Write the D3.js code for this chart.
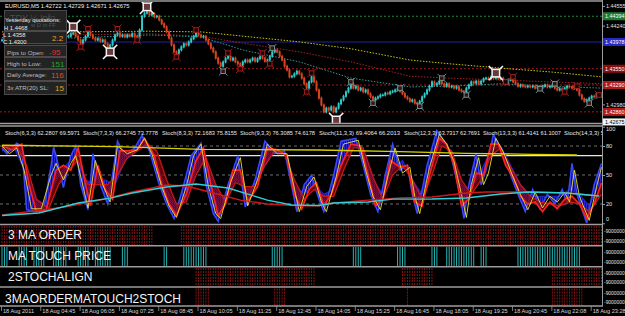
<!DOCTYPE html>
<html><head><meta charset="utf-8">
<script src="https://cdn.jsdelivr.net/npm/d3@7"></script>
<style>
html,body{margin:0;padding:0;background:#000;overflow:hidden}
svg{display:block}
text{font-family:"Liberation Sans",Arial,sans-serif}
</style></head><body>
<svg id="c" width="625" height="316"></svg>
<script>
// ---------------- DATA ----------------
const title = "EURUSD,M5 1.42722 1.42729 1.42671 1.42675";
const closes = [
1.4401,1.4404,1.4407,1.4406,1.4409,1.4404,1.4401,1.4398,1.4403,1.4406,1.4409,1.4407,1.4404,1.4401,1.4399,1.4403,1.4406,1.4407,1.4409,1.4406,1.4404,1.4407,1.4409,1.4411,1.4407,1.4406,1.4407,
1.4407,1.4411,1.4412,1.4407,1.4401,1.4396,1.4401,1.4407,1.4414,1.4409,1.4404,1.4401,1.4403,1.4399,1.4401,1.4395,1.4390,1.4393,1.4401,1.4409,1.4412,1.4407,1.4409,1.4406,1.4409,1.4407,1.4411,1.4407,1.4404,
1.4417,1.4439,1.4444,1.4446,1.4441,1.4443,1.4438,1.4439,1.4433,1.4427,1.4422,1.4414,1.4404,1.4393,1.4382,1.4379,1.4385,1.4390,1.4395,1.4393,1.4398,1.4403,1.4407,1.4412,1.4409,1.4406,1.4407,1.4401,1.4395,1.4388,1.4382,1.4372,1.4364,1.4359,
1.4366,1.4372,1.4375,1.4369,1.4372,1.4366,1.4363,1.4359,1.4366,1.4369,1.4366,1.4369,1.4372,1.4367,1.4371,1.4375,1.4372,1.4367,1.4369,1.4375,1.4382,1.4385,1.4382,1.4375,1.4369,1.4359,1.4353,1.4342,1.4343,1.4347,1.4351,1.4347,
1.4340,1.4331,1.4324,1.4334,1.4342,1.4334,1.4321,1.4308,1.4297,1.4286,1.4292,1.4289,1.4294,1.4286,1.4292,1.4299,1.4305,1.4311,1.4318,1.4324,1.4331,1.4324,1.4327,1.4321,1.4324,1.4318,1.4321,1.4315,1.4310,1.4305,1.4308,1.4310,1.4313,1.4313,
1.4316,1.4315,1.4318,1.4319,1.4321,1.4323,1.4319,1.4315,1.4310,1.4307,1.4303,1.4305,1.4300,1.4299,1.4303,1.4310,1.4315,1.4321,1.4327,1.4334,1.4329,1.4331,1.4335,1.4331,1.4327,1.4331,1.4326,1.4327,1.4324,1.4326,1.4321,1.4319,1.4318,1.4324,
1.4329,1.4334,1.4332,1.4335,1.4331,1.4335,1.4339,1.4340,1.4339,1.4342,1.4340,1.4343,1.4339,1.4340,1.4335,1.4331,1.4337,1.4339,1.4334,1.4331,1.4327,1.4329,1.4327,1.4326,1.4327,1.4326,1.4327,1.4324,1.4326,1.4324,1.4327,1.4329,1.4326,1.4327,
1.4329,1.4324,1.4321,1.4323,1.4321,1.4324,1.4327,1.4326,1.4324,1.4327,1.4321,1.4313,1.4307,1.4303,1.4305,1.4308,1.4311,1.4310,1.4315,1.4313,1.4311
];
const maYellow = [[0,1.4414],[27,1.4414],[60,1.4415],[81,1.4414],[101,1.4406],[121,1.4398],[142,1.4387],[166,1.4369],[182,1.4363],[203,1.4356],[223,1.4350],[244,1.4342]];
const maRed    = [[0,1.4410],[27,1.4409],[60,1.4411],[81,1.4407],[98,1.4396],[121,1.4382],[142,1.4366],[166,1.4343],[182,1.4340],[203,1.4337],[223,1.4334],[244,1.4331]];
const maCyan   = [[0,1.4405],[27,1.4404],[60,1.4409],[81,1.4406],[98,1.4385],[121,1.4366],[142,1.4340],[166,1.4326],[182,1.4327],[203,1.4331],[223,1.4327],[244,1.4324]];
const priceLevels = [1.4439, 1.43978, 1.4355, 1.4329, 1.4286];
const levelLabels = ["1.44394", "1.43978", "1.43550", "1.43290", "1.42860"];
const bidPrice = 1.42675, bidLabel = "1.42675";
const priceTicks = [1.44555, 1.44240, 1.42980];
const bigMarks  = [[29,1.4422],[44,1.4382],[59,1.4454],[136,1.4273],[201,1.4348]];
const redMarks  = [[32,1.4390],[35,1.4419],[47,1.4419],[55,1.4401],[71,1.4374],[79,1.4417],[92,1.4380],[97,1.4355],[106,1.4380],[109,1.4363],[124,1.4318],[126,1.4348],[205,1.4334],[208,1.4342],[229,1.4318],[234,1.4327],[243,1.4313]];
const grayMarks = [[90,1.4351],[110,1.4388],[142,1.4334],[151,1.4300],[162,1.4324],[170,1.4295],[179,1.4340],[189,1.4313],[219,1.4323],[225,1.4331],[239,1.4300]];

const stochHeader = [
 "Stoch(6,3,3) 62.2807 69.5971","Stoch(7,3,3) 66.2745 73.7778","Stoch(8,3,3) 72.1683 75.8155",
 "Stoch(9,3,3) 76.3085 74.6178","Stoch(11,3,3) 69.4064 66.2013","Stoch(12,3,3) 63.7317 62.7691",
 "Stoch(13,3,3) 61.4141 61.1007","Stoch(14,3,3) 5"];
const blueFast = [[0,78],[2,72],[6,83],[8,80],[10,14],[13,12],[17,15],[20,60],[21,79],[22,70],[25,37],[28,70],[30,80],[32,40],[35,14],[37,72],[40,40],[43,20],[45,50],[47,85],[50,70],[54,78],[57,91],[60,75],[64,40],[67,20],[70,5],[74,40],[77,70],[81,83],[83,40],[86,10],[88,2],[92,40],[96,70],[99,17],[103,45],[107,85],[111,72],[115,75],[117,50],[120,12],[123,40],[126,50],[129,25],[131,12],[135,50],[138,85],[144,88],[147,60],[150,30],[153,12],[156,50],[159,82],[162,55],[165,60],[167,30],[169,10],[173,60],[177,96],[180,85],[183,67],[186,35],[188,5],[190,40],[193,72],[195,40],[197,55],[200,92],[203,78],[207,50],[210,30],[213,12],[216,35],[219,15],[222,30],[225,20],[228,35],[230,20],[232,62],[234,30],[238,0],[241,40],[244,62]];
const blueSlow = [[0,75],[5,78],[10,50],[14,25],[18,18],[22,45],[26,60],[30,70],[34,45],[38,40],[42,45],[46,40],[50,65],[55,75],[59,82],[63,60],[67,35],[71,18],[75,25],[79,55],[83,65],[87,35],[91,25],[95,45],[99,35],[103,40],[107,60],[111,75],[115,72],[119,40],[123,30],[127,40],[131,30],[135,35],[139,65],[143,80],[147,75],[151,45],[155,30],[159,55],[163,65],[167,45],[171,30],[175,65],[179,85],[183,75],[187,40],[191,35],[195,55],[199,75],[203,80],[207,60],[211,40],[215,28],[219,28],[223,28],[227,28],[231,35],[235,30],[239,18],[244,45]];
const redFast = [[0,80],[4,76],[8,82],[11,40],[14,12],[18,14],[22,55],[25,60],[28,55],[31,78],[34,40],[36,18],[39,60],[42,35],[45,25],[48,75],[51,75],[55,76],[58,88],[62,70],[65,40],[68,20],[71,8],[75,30],[79,65],[82,78],[85,40],[88,8],[91,20],[94,55],[97,55],[100,22],[104,38],[108,78],[112,76],[116,70],[119,30],[122,15],[125,35],[128,42],[131,18],[134,30],[138,60],[142,82],[146,80],[149,50],[152,18],[155,25],[158,65],[162,58],[165,60],[168,22],[171,18],[174,50],[178,88],[181,82],[184,60],[187,18],[190,25],[193,52],[196,50],[199,82],[202,82],[205,60],[208,48],[211,28],[214,20],[217,22],[220,12],[223,22],[226,15],[229,25],[232,28],[235,20],[238,5],[241,20],[244,42]];
const redSlow = [[0,78],[6,80],[10,60],[14,25],[19,15],[23,40],[27,55],[31,65],[35,40],[39,40],[43,40],[47,50],[51,68],[55,75],[59,82],[63,75],[67,45],[71,20],[75,22],[79,50],[83,68],[87,40],[91,22],[95,42],[99,38],[103,38],[107,60],[111,75],[115,72],[119,45],[123,25],[127,35],[131,28],[135,28],[139,55],[143,78],[147,78],[151,48],[155,25],[159,50],[163,60],[167,45],[171,25],[175,50],[179,80],[183,75],[187,45],[191,30],[195,45],[199,70],[203,78],[207,58],[211,40],[215,28],[219,22],[223,20],[227,18],[231,22],[235,20],[239,12],[244,30]];
const yellowStoch = [[0,80],[3,72],[6,78],[9,55],[12,15],[16,15],[20,50],[22,62],[25,45],[28,62],[30,70],[33,38],[35,16],[38,65],[41,40],[44,22],[47,80],[51,72],[55,76],[58,88],[61,72],[65,38],[68,18],[71,6],[75,38],[78,70],[81,82],[84,38],[87,10],[89,5],[93,42],[97,68],[100,18],[104,45],[108,82],[112,72],[116,72],[118,48],[121,12],[124,38],[127,48],[130,22],[132,12],[136,48],[139,82],[145,86],[148,55],[151,28],[154,14],[157,48],[160,78],[163,52],[166,58],[168,28],[170,10],[174,58],[178,92],[181,82],[184,64],[187,30],[189,6],[191,40],[194,68],[196,40],[198,52],[201,88],[204,74],[208,48],[211,30],[214,14],[217,32],[220,16],[223,28],[226,22],[229,32],[231,22],[233,55],[235,28],[239,3],[242,38],[244,58]];
const yellowLevel = [[0,80.8],[47,79.3],[81,76.6],[129,75.9],[162,74.1],[189,72.4],[216,71.4],[234,70.7]];
const cyanSlow = [[0,8],[15,10.7],[31,21],[44,26],[53,31.4],[67,37.6],[79,40.7],[92,36.5],[108,24],[118,19],[129,18.5],[135,21],[149,22],[159,25],[175,25.2],[189,26.2],[203,30.3],[214,32.4],[230,31.4],[243,28.3]];
const redSlowMA = [[0,8.6],[26,17],[40,24],[53,32.4],[67,39.6],[75,38.6],[86,31.4],[97,24],[108,20],[121,18],[129,18],[135,21],[149,24],[162,26.2],[175,27.2],[189,31.4],[197,32.4],[216,32.4],[230,31.4],[243,28.3]];
const stochLevels = [80, 50, 20];
const stochWhite = 70;
const stochTicks = [100, 80, 50, 20, 0];

const panelNames = ["3 MA ORDER", "MA TOUCH PRICE", "2STOCHALIGN", "3MAORDERMATOUCH2STOCH"];
const maOrder = [[0,61],[73,244]];
const maTouch = [[0,2],[7,10],[13,17],[21,26],[31,35],[38,44],[49,51],[66,67],[74,83],[110,114],[143,146],[161,164],[175,177],[181,192],[195,197],[210,235]];
const stochAlign = [[79,127],[163,175],[224,244]];
const allSignals = [[79,84],[111,115],[165,165],[224,236]];
const signalAxisLabel = "-9000000";

const timeLabels = [[0,"18 Aug 2011"],[16,"18 Aug 04:45"],[32,"18 Aug 06:05"],[48,"18 Aug 07:25"],[64,"18 Aug 08:45"],[80,"18 Aug 10:05"],[96,"18 Aug 11:25"],[112,"18 Aug 12:45"],[128,"18 Aug 14:05"],[144,"18 Aug 15:25"],[160,"18 Aug 16:45"],[176,"18 Aug 18:05"],[192,"18 Aug 19:25"],[208,"18 Aug 20:45"],[224,"18 Aug 22:08"],[240,"18 Aug 23:28"]];

const infoRows = [["Pips to Open:","-95"],["High to Low:","151"],["Daily Average:","116"],["3x ATR(20) SL:","15"]];
const yesterday = ["Yesterday quotations:","H 1.4468","L 1.4358","C 1.4300"];
const rangeRatio = "2.2";

// ---------------- DRAW ----------------
const svg = d3.select("#c");
svg.append("rect").attr("width",625).attr("height",316).attr("fill","#000");
const defs = svg.append("defs");
function clip(id,x0,y0,x1,y1){defs.append("clipPath").attr("id",id).append("rect").attr("x",x0).attr("y",y0).attr("width",x1-x0).attr("height",y1-y0);}
const XR = 602;
clip("cp",0,2,XR,123); clip("cs",0,127,XR,223); clip("ch",0,126,XR,140);
const pb = defs.append("pattern").attr("id","hb").attr("width",2).attr("height",3).attr("patternUnits","userSpaceOnUse");
pb.append("rect").attr("width",2).attr("height",3).attr("fill","#10106a");
pb.append("line").attr("x1",0.5).attr("x2",0.5).attr("y1",0).attr("y2",3).attr("stroke","#3030e0").attr("stroke-width",0.8);
const pr = defs.append("pattern").attr("id","hr").attr("width",2).attr("height",2).attr("patternUnits","userSpaceOnUse");
pr.append("rect").attr("width",2).attr("height",2).attr("fill","#4a0505");
pr.append("line").attr("x1",0).attr("x2",2).attr("y1",0.5).attr("y2",1.5).attr("stroke","#c81414").attr("stroke-width",0.8);

const x = d3.scaleLinear().domain([0,244]).range([2,601.5]);
const yP = d3.scaleLinear().domain([1.42666,1.4465]).range([124,0]);
const yS = d3.scaleLinear().domain([0,100]).range([223.3,126.7]);

// ---- price panel
const gP = svg.append("g").attr("clip-path","url(#cp)");
const lvlStyle = [{c:"#1e8c3c",d:"2,2",w:1},{c:"#23239c",d:null,w:1.2},{c:"#a81a1a",d:"2,2",w:1},{c:"#a81a1a",d:"2,2",w:1},{c:"#a81a1a",d:"2,2",w:1}];
priceLevels.forEach((p,i)=>{
  gP.append("line").attr("x1",0).attr("x2",XR).attr("y1",yP(p)).attr("y2",yP(p))
   .attr("stroke",lvlStyle[i].c).attr("stroke-width",lvlStyle[i].w).attr("stroke-dasharray",lvlStyle[i].d);
});
const lineP = d3.line().x(d=>x(d[0])).y(d=>yP(d[1]));
[[maYellow,"#c8c800"],[maRed,"#a82020"],[maCyan,"#2a9a9a"]].forEach(([d,c])=>{
  gP.append("path").attr("d",lineP(d)).attr("fill","none").attr("stroke",c).attr("stroke-width",1).attr("stroke-dasharray","1.5,1.5");
});
closes.forEach((c,i)=>{
  const o = i ? closes[i-1] : c;
  const up = c >= o;
  const col = up ? "#30c8c8" : "#d8441c";
  const yt = yP(Math.max(o,c)), yb = yP(Math.min(o,c));
  gP.append("line").attr("x1",x(i)).attr("x2",x(i)).attr("y1",yt-1.5).attr("y2",yb+1.5).attr("stroke",col).attr("stroke-width",1);
  gP.append("rect").attr("x",x(i)-1).attr("y",yt-0.5).attr("width",2).attr("height",Math.max(1.5,yb-yt+1)).attr("fill",col);
});
function marker(g,d,s,col,inner,w){
  const cx=x(d[0]), cy=yP(d[1]), h=s/2, k=s*0.45;
  g.append("rect").attr("x",cx-h).attr("y",cy-h).attr("width",s).attr("height",s).attr("fill",inner).attr("stroke",col).attr("stroke-width",w);
  [[-1,-1],[1,-1],[-1,1],[1,1]].forEach(([sx,sy])=>{
    g.append("line").attr("x1",cx+sx*h).attr("y1",cy+sy*h).attr("x2",cx+sx*(h+k)).attr("y2",cy+sy*(h+k)).attr("stroke",col).attr("stroke-width",w);
  });
}
grayMarks.forEach(d=>marker(gP,d,4.5,"#6f9090","#3a1010",1));
redMarks.forEach(d=>marker(gP,d,4.5,"#a61e1e","#1a0000",1));
bigMarks.forEach(d=>marker(gP,d,7.5,"#f4f4f4","#6a3a3a",1.5));

// info box
const gi = svg.append("g");
gi.append("rect").attr("x",4).attr("y",10).attr("width",63).attr("height",85).attr("fill","#1b1b1b");
[[10,31],[31,44],[45,57],[57,69],[69,81],[81,95]].forEach(r=>{
  gi.append("rect").attr("x",4.5).attr("y",r[0]+0.5).attr("width",62).attr("height",r[1]-r[0]-1).attr("fill","#232323").attr("stroke","#4a4a4a").attr("stroke-width",1);
});
gi.append("text").attr("x",10).attr("y",21).attr("font-size",9).attr("fill","#4e4e4e").text("TDY ¼ Info");
gi.append("text").attr("x",5).attr("y",22).attr("font-size",5.8).attr("fill","#e8e8e8").text(yesterday[0]);
gi.append("text").attr("x",31).attr("y",27).attr("font-size",5.8).attr("fill","#555").text("w D in FF");
gi.append("text").attr("x",4).attr("y",29.5).attr("font-size",5.8).attr("fill","#e8e8e8").text(yesterday[1]);
gi.append("text").attr("x",3).attr("y",36.5).attr("font-size",5.8).attr("fill","#e8e8e8").text(yesterday[2]);
gi.append("text").attr("x",3).attr("y",43.5).attr("font-size",5.8).attr("fill","#e8e8e8").text(yesterday[3]);
gi.append("text").attr("x",52).attr("y",41).attr("font-size",8).attr("fill","#e0a030").text(rangeRatio);
const rowY = [54.5,66,77,90];
const valCol = ["#e03030","#30a030","#e04a20","#e0a020"];
const valX = [49,51,51,55];
infoRows.forEach((r,i)=>{
  gi.append("text").attr("x",7).attr("y",rowY[i]).attr("font-size",6.2).attr("fill","#bdbdbd").text(r[0]);
  gi.append("text").attr("x",valX[i]).attr("y",rowY[i]+0.5).attr("font-size",8).attr("fill",valCol[i]).text(r[1]);
});
svg.append("text").attr("x",5).attr("y",8).attr("font-size",5.8).attr("fill","#f0f0f0").text(title);

// ---- stochastic panel
const gS = svg.append("g").attr("clip-path","url(#cs)");
stochLevels.forEach(v=>{
  gS.append("line").attr("x1",0).attr("x2",XR).attr("y1",yS(v)).attr("y2",yS(v)).attr("stroke","#8a8a8a").attr("stroke-width",0.8).attr("stroke-dasharray","3,3");
});
gS.append("line").attr("x1",0).attr("x2",XR).attr("y1",yS(stochWhite)).attr("y2",yS(stochWhite)).attr("stroke","#e8e8e8").attr("stroke-width",1.2);
const lineS = d3.line().x(d=>x(d[0])).y(d=>yS(d[1]));
function band(a,b){ return lineS(a.concat(b.slice().reverse())) + "Z"; }
gS.append("path").attr("d",band(blueFast,blueSlow)).attr("fill","url(#hb)");
gS.append("path").attr("d",lineS(blueSlow)).attr("fill","none").attr("stroke","#2424cc").attr("stroke-width",1.1);
gS.append("path").attr("d",lineS(blueFast)).attr("fill","none").attr("stroke","#3848ff").attr("stroke-width",1.5);
gS.append("path").attr("d",band(redFast,redSlow)).attr("fill","url(#hr)").attr("fill-opacity",0.7);
gS.append("path").attr("d",lineS(redSlow)).attr("fill","none").attr("stroke","#c41818").attr("stroke-width",1.3);
gS.append("path").attr("d",lineS(redFast)).attr("fill","none").attr("stroke","#ff2020").attr("stroke-width",1.7);
gS.append("path").attr("d",lineS(yellowStoch)).attr("fill","none").attr("stroke","#f0e020").attr("stroke-width",0.9);
gS.append("path").attr("d",lineS(yellowLevel)).attr("fill","none").attr("stroke","#d8d000").attr("stroke-width",1.3);
gS.append("path").attr("d",lineS(redSlowMA)).attr("fill","none").attr("stroke","#d01818").attr("stroke-width",1.4);
gS.append("path").attr("d",lineS(cyanSlow)).attr("fill","none").attr("stroke","#30d0d8").attr("stroke-width",1.4);
const hdrX = [5,83,162,240,319,404,483,564];
const hdrW = [75,75,75,75,81,76,78,40];
const gH = svg.append("g").attr("clip-path","url(#ch)");
stochHeader.forEach((t,i)=>{
  gH.append("text").attr("x",hdrX[i]).attr("y",135).attr("font-size",5.6).attr("fill","#e8e8e8")
    .attr("textLength",hdrW[i]).attr("lengthAdjust","spacingAndGlyphs").text(t);
});

// ---- signal panels
const panY = [[226,245],[247,266],[268,286.5],[288.5,306]];
const sigSets = [maOrder, maTouch, stochAlign, allSignals];
const sigCol = ["#8a1414","#26b4b4","#8a1414","#8a1414"];
sigSets.forEach((set,pi)=>{
  const g = svg.append("g");
  set.forEach(([a,b])=>{
    for(let i=a;i<=b;i++){
      g.append("line").attr("x1",x(i)).attr("x2",x(i)).attr("y1",panY[pi][0]).attr("y2",panY[pi][1])
       .attr("stroke",sigCol[pi]).attr("stroke-width",1).attr("stroke-dasharray", pi===1?null:"2,1");
    }
  });
});
const nameBase = [238.5,259.5,281,302.5];
panelNames.forEach((n,i)=>{
  svg.append("text").attr("x",i===3?5:8).attr("y",nameBase[i]).attr("font-size",12).attr("fill","#f4f4f4").text(n);
});

// ---- frames
const frameY = [1,123.5,126,224.5,245.8,266.8,287,306];
frameY.forEach(y=>svg.append("line").attr("x1",0).attr("x2",XR+1).attr("y1",y).attr("y2",y).attr("stroke","#9c9c9c").attr("stroke-width",1.6));
svg.append("line").attr("x1",XR+0.5).attr("x2",XR+0.5).attr("y1",0).attr("y2",306).attr("stroke","#9c9c9c").attr("stroke-width",1);

// ---- right axes
const axP = svg.append("g").attr("transform",`translate(${XR+1},0)`)
  .call(d3.axisRight(yP).tickValues(priceTicks).tickFormat(d=>d.toFixed(5)).tickSize(2));
axP.select(".domain").remove();
axP.selectAll("text").attr("font-size",5.4).attr("fill","#e0e0e0").attr("x",3).attr("font-family","Liberation Sans, Arial");
axP.selectAll("line").attr("stroke","#9c9c9c");
const boxCol = ["#1e7c30","#2828c8","#8a1010","#b01a1a","#b01a1a"];
priceLevels.forEach((p,i)=>{
  svg.append("rect").attr("x",XR+1).attr("y",yP(p)-4).attr("width",22).attr("height",8).attr("fill",boxCol[i]);
  svg.append("text").attr("x",XR+3).attr("y",yP(p)+2).attr("font-size",5.4).attr("fill","#fff").text(levelLabels[i]);
});
svg.append("rect").attr("x",XR+1).attr("y",yP(bidPrice)-5).attr("width",22).attr("height",7).attr("fill","#f4f4f4");
svg.append("text").attr("x",XR+3).attr("y",yP(bidPrice)+0.5).attr("font-size",5.4).attr("fill","#000").text(bidLabel);

const axS = svg.append("g").attr("transform",`translate(${XR+1},0)`)
  .call(d3.axisRight(yS).tickValues(stochTicks).tickFormat(d3.format("d")).tickSize(2));
axS.select(".domain").remove();
axS.selectAll("text").attr("font-size",5.6).attr("fill","#e0e0e0").attr("x",3).attr("font-family","Liberation Sans, Arial")
  .attr("dy",d=>d===100?"3.6":d===0?"-3.2":"0.32em");
axS.selectAll("line").attr("stroke","#9c9c9c");

panY.forEach(([a,b])=>{
  [a+4.5,b-4.5].forEach(y=>{
    svg.append("text").attr("x",XR+2).attr("y",y+2).attr("font-size",4.9).attr("fill","#e0e0e0").text(signalAxisLabel);
  });
});

// ---- time axis
timeLabels.forEach(([b,t])=>{
  svg.append("line").attr("x1",x(b)-0.5).attr("x2",x(b)-0.5).attr("y1",306).attr("y2",311).attr("stroke","#9c9c9c").attr("stroke-width",0.8);
  svg.append("text").attr("x",x(b)+1).attr("y",313).attr("font-size",5.6).attr("fill","#d8d8d8").text(t);
});
</script>
</body></html>
